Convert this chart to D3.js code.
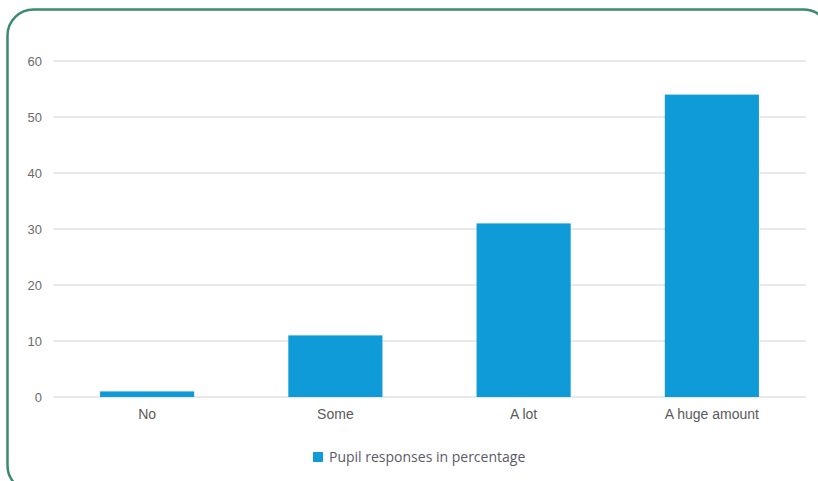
<!DOCTYPE html>
<html>
<head>
<meta charset="utf-8">
<script src="https://cdn.jsdelivr.net/npm/d3@7"></script>
<style>
  body { margin: 0; background: #fff; }
  svg { display: block; font-family: "Open Sans", "Noto Sans", sans-serif; }
</style>
</head>
<body>
<svg id="chart" width="818" height="481"></svg>
<script>
// chart data
var categories = ["No", "Some", "A lot", "A huge amount"]
var values = [1, 11, 31, 54]
var yTicks = [0, 10, 20, 30, 40, 50, 60]
var seriesName = "Pupil responses in percentage"

var svg = d3.select("#chart")
var margin = {top: 61, right: 12, bottom: 84, left: 53}
var width = 818 - margin.left - margin.right
var height = 481 - margin.top - margin.bottom

// rounded frame round the whole chart, runs off the right and bottom edges
svg.append("rect")
  .attr("x", 7.5).attr("y", 9.5)
  .attr("width", 822).attr("height", 482)
  .attr("rx", 26).attr("ry", 26)
  .attr("fill", "#fff")
  .attr("stroke", "#3a8a72")
  .attr("stroke-width", 2.5)

var g = svg.append("g").attr("transform", `translate(${margin.left},${margin.top})`)

var x = d3.scaleBand().domain(categories).range([0, width]).paddingInner(0.5).paddingOuter(0.25)
var y = d3.scaleLinear().domain([0, 60]).range([height, 0])

// gridlines
g.append("g")
  .selectAll("line")
  .data(yTicks)
  .join("line")
  .attr("x1", 0).attr("x2", width)
  .attr("y1", d => y(d)).attr("y2", d => y(d))
  .attr("stroke", "#e2e2e2")
  .attr("stroke-width", 1.5)

// y axis labels
var yAxis = g.append("g")
  .call(d3.axisLeft(y).tickValues(yTicks).tickSize(0).tickPadding(11))
yAxis.select(".domain").remove()
yAxis.selectAll("text").attr("fill", "#6b6b6b").style("font-size", "13px")

// bars
g.append("g")
  .selectAll("rect")
  .data(values)
  .join("rect")
  .attr("x", (d, i) => x(categories[i]))
  .attr("width", x.bandwidth())
  .attr("y", d => y(d))
  .attr("height", d => height - y(d))
  .attr("fill", "#0f9bd7")

// x axis labels
var xAxis = g.append("g")
  .attr("transform", `translate(0,${height})`)
  .call(d3.axisBottom(x).tickSize(0).tickPadding(12))
xAxis.select(".domain").remove()
xAxis.selectAll("text").attr("fill", "#5a5a5a").style("font-size", "14px")

// legend
var legend = svg.append("g").attr("transform", "translate(313,452)")
legend.append("rect").attr("width", 10).attr("height", 10).attr("fill", "#0f9bd7")
legend.append("text")
  .attr("x", 16).attr("y", 5)
  .attr("dy", "0.35em")
  .attr("fill", "#5a5a68")
  .style("font-size", "14px")
  .text(seriesName)
</script>
</body>
</html>
